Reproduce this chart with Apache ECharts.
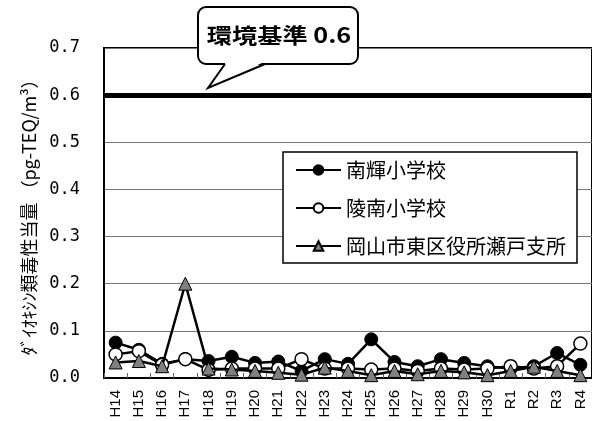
<!DOCTYPE html>
<html>
<head>
<meta charset="utf-8">
<script src="https://cdn.jsdelivr.net/npm/echarts@6/dist/echarts.min.js"></script>
<style>
  html, body { margin: 0; padding: 0; background: #fff; }
  #chart { width: 592px; height: 421px; }
</style>
</head>
<body>
<div id="chart"></div>
<script>
// 年度 (平成14年度〜令和4年度)
const years = ['H14','H15','H16','H17','H18','H19','H20','H21','H22','H23','H24',
               'H25','H26','H27','H28','H29','H30','R1','R2','R3','R4'];

// ダイオキシン類毒性当量 (pg-TEQ/m3)
const nanki = [0.075, 0.06, 0.03, 0.04, 0.036, 0.045, 0.032, 0.035, 0.015, 0.04, 0.03,
               0.082, 0.034, 0.025, 0.04, 0.032, 0.025, 0.02, 0.025, 0.053, 0.028];
const ryonan = [0.05, 0.057, 0.028, 0.04, 0.017, 0.02, 0.02, 0.02, 0.04, 0.02, 0.02,
                0.018, 0.02, 0.015, 0.02, 0.018, 0.02, 0.025, 0.02, 0.025, 0.073];
const seto = [0.033, 0.036, 0.025, 0.2, 0.02, 0.018, 0.015, 0.011, 0.007, 0.022, 0.015,
              0.006, 0.015, 0.008, 0.015, 0.012, 0.006, 0.015, 0.024, 0.015, 0.006];

const seriesNames = ['南輝小学校', '陵南小学校', '岡山市東区役所瀬戸支所'];

// 環境基準
const standardValue = 0.6;
const standardLabel = '環境基準 0.6';

// y軸目盛
const yMin = 0, yMax = 0.7, yStep = 0.1;

const jpFont = '"Noto Sans CJK JP", "Noto Sans", sans-serif';

const chart = echarts.init(document.getElementById('chart'), null, { renderer: 'canvas' });

chart.setOption({
  animation: false,
  backgroundColor: '#fff',
  grid: {
    left: 104, top: 48, width: 490, height: 330,
    show: true, borderColor: '#000', borderWidth: 2, backgroundColor: 'transparent'
  },
  xAxis: {
    type: 'category',
    data: years,
    boundaryGap: true,
    axisLine: { show: true, lineStyle: { color: '#000', width: 2 } },
    axisTick: { show: true, inside: true, length: 5, lineStyle: { color: '#666', width: 1 } },
    axisLabel: {
      rotate: 90, margin: 12, interval: 0,
      color: '#000', fontSize: 15, fontFamily: '"Liberation Sans", Arial, sans-serif'
    },
    splitLine: { show: false }
  },
  yAxis: {
    type: 'value',
    min: yMin, max: yMax, interval: yStep,
    name: 'ﾀﾞｲｵｷｼﾝ類毒性当量 （pg-TEQ/m³）',
    nameLocation: 'middle',
    nameRotate: 90,
    nameGap: 57,
    nameTextStyle: { color: '#000', fontSize: 18, fontFamily: jpFont },
    axisLine: { show: true, lineStyle: { color: '#000', width: 2 } },
    axisTick: { show: false },
    axisLabel: {
      margin: 24, color: '#000', fontSize: 17,
      fontFamily: '"DejaVu Sans Mono", "Liberation Mono", monospace',
      formatter: v => v.toFixed(1)
    },
    splitLine: { show: true, lineStyle: { color: '#777', width: 1 } }
  },
  legend: {
    orient: 'vertical',
    left: 283, top: 152,
    padding: [8, 11, 7, 12],
    itemGap: 18,
    itemWidth: 45, itemHeight: 12,
    borderColor: '#000', borderWidth: 1.5,
    backgroundColor: '#fff',
    selectedMode: false,
    textStyle: { color: '#000', fontSize: 20, fontFamily: jpFont },
    data: seriesNames
  },
  series: [
    {
      name: seriesNames[0],
      type: 'line',
      data: nanki,
      symbol: 'circle', symbolSize: 13,
      lineStyle: { color: '#000', width: 2.5 },
      itemStyle: { color: '#000', borderColor: '#000', borderWidth: 1 },
      z: 3,
      markLine: {
        silent: true,
        symbol: 'none',
        label: { show: false },
        lineStyle: { color: '#000', width: 5, type: 'solid' },
        data: [{ yAxis: standardValue }]
      }
    },
    {
      name: seriesNames[1],
      type: 'line',
      data: ryonan,
      symbol: 'circle', symbolSize: 13,
      lineStyle: { color: '#000', width: 2.5 },
      itemStyle: { color: '#fff', borderColor: '#000', borderWidth: 1.5 },
      z: 4
    },
    {
      name: seriesNames[2],
      type: 'line',
      data: seto,
      symbol: 'triangle', symbolSize: 13,
      lineStyle: { color: '#000', width: 2.5 },
      itemStyle: { color: '#808080', borderColor: '#000', borderWidth: 1 },
      z: 5
    }
  ],
  graphic: [
    {
      // 吹き出しの本体
      type: 'rect',
      z: 100,
      shape: { x: 198, y: 7, width: 160, height: 57, r: 8 },
      style: { fill: '#fff', stroke: '#000', lineWidth: 2 }
    },
    {
      // 吹き出しの尾 (塗り)
      type: 'polygon',
      z: 101,
      shape: { points: [[226, 62], [208, 88], [264, 62]] },
      style: { fill: '#fff', stroke: null }
    },
    {
      // 吹き出しの尾 (輪郭)
      type: 'polyline',
      z: 102,
      shape: { points: [[225, 64], [208, 88], [265, 64]] },
      style: { fill: null, stroke: '#000', lineWidth: 2, lineJoin: 'miter' }
    },
    {
      type: 'text',
      z: 103,
      x: 279, y: 35,
      scaleX: 1.2,
      style: {
        text: standardLabel,
        fill: '#000',
        font: 'bold 21px ' + jpFont,
        align: 'center',
        verticalAlign: 'middle'
      }
    }
  ]
});
</script>
</body>
</html>
